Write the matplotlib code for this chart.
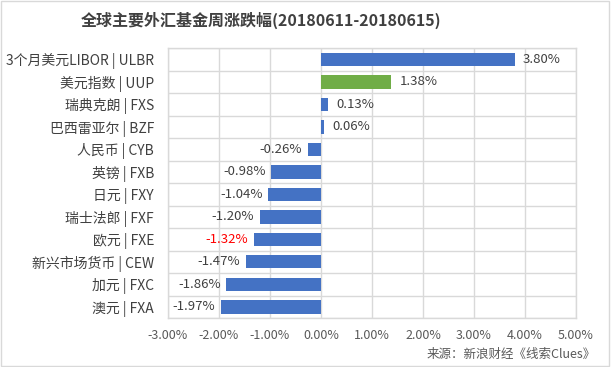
import matplotlib
matplotlib.use("Agg")
import matplotlib.pyplot as plt
from matplotlib.patches import Rectangle
from matplotlib.ticker import FixedLocator

plt.rcParams['font.family'] = ['Noto Sans CJK SC', 'DejaVu Sans']

categories = ["3个月美元LIBOR | ULBR", "美元指数 | UUP", "瑞典克朗 | FXS", "巴西雷亚尔 | BZF",
              "人民币 | CYB", "英镑 | FXB", "日元 | FXY", "瑞士法郎 | FXF", "欧元 | FXE",
              "新兴市场货币 | CEW", "加元 | FXC", "澳元 | FXA"]
values = [3.80, 1.38, 0.13, 0.06, -0.26, -0.98, -1.04, -1.20, -1.32, -1.47, -1.86, -1.97]
bar_colors = ["#4472C4", "#70AD47"] + ["#4472C4"] * 10
label_colors = ["#404040"] * 8 + ["#FF0000"] + ["#404040"] * 3
xticks = [-3, -2, -1, 0, 1, 2, 3, 4, 5]
title = "全球主要外汇基金周涨跌幅(20180611-20180615)"
source = "来源：新浪财经《线索Clues》"

fig = plt.figure(figsize=(6.11, 3.67), dpi=100)
fig.patches.append(Rectangle((0.002, 0.003), 0.995, 0.994, transform=fig.transFigure,
                             fill=False, edgecolor="#D9D9D9", linewidth=1.0))
ax = fig.add_axes([168/611, 1-318/367, (576-168)/611, (318-48)/367])

n = len(categories)
ypos = list(range(n))
ax.barh(ypos, values, height=0.6, color=bar_colors, zorder=3)
ax.set_ylim(n - 0.5, -0.5)
ax.set_xlim(-3, 5)
ax.set_xticks(xticks)
ax.set_xticklabels([f"{v:.2f}%" for v in xticks], fontsize=9, color="#595959")
ax.set_yticks(ypos)
ax.set_yticklabels(categories, fontsize=10, color="#404040")
ax.yaxis.set_minor_locator(FixedLocator([i - 0.5 for i in range(n + 1)]))
ax.tick_params(axis='both', which='both', length=0)
ax.tick_params(axis='y', pad=10)
ax.tick_params(axis='x', pad=8)
ax.grid(axis='x', which='major', color="#D9D9D9", linewidth=1.0, zorder=0)
ax.grid(axis='y', which='minor', color="#D9D9D9", linewidth=1.0, zorder=0)
for s in ax.spines.values():
    s.set_color("#D9D9D9")
    s.set_linewidth(1.0)

for y, v, c in zip(ypos, values, label_colors):
    if v >= 0:
        ax.annotate(f"{v:.2f}%", (v, y), xytext=(6, 0), textcoords="offset points",
                    ha="left", va="center", fontsize=9.5, color=c, zorder=4)
    else:
        ax.annotate(f"{v:.2f}%", (v, y), xytext=(-4, 0), textcoords="offset points",
                    ha="right", va="center", fontsize=9.5, color=c, zorder=4)

fig.text(0.427, 1 - 20/367, title, ha="center", va="center", fontsize=11.5,
         fontweight="bold", color="#404040")
fig.text(0.975, 1 - 354/367, source, ha="right", va="center", fontsize=9, color="#595959")

fig.savefig("out.png", dpi=100)
